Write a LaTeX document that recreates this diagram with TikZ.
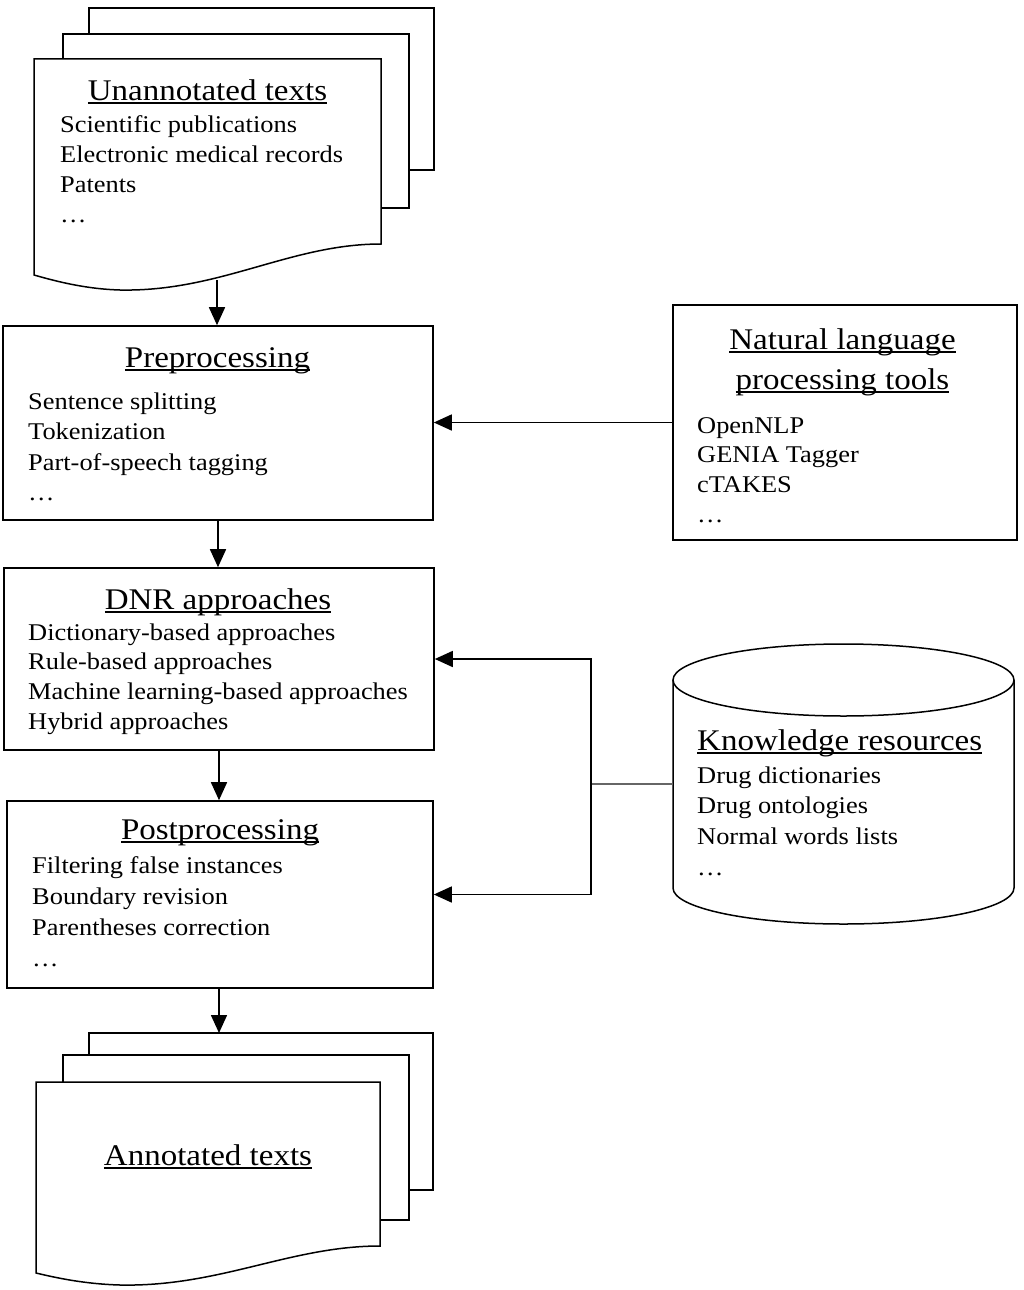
\documentclass[tikz,border=0pt]{standalone}
\usepackage{fontspec}
\setmainfont{Liberation Serif}[FakeStretch=1.1]
\usepackage{tikz}
\usetikzlibrary{arrows.meta,positioning}
\newsavebox\headbox
\newcommand\headline[1]{\sbox\headbox{#1}\rlap{\rule[-3.5pt]{\wd\headbox}{1.3pt}}\usebox\headbox}

\begin{document}
\begin{tikzpicture}[x=1pt, y=-1pt,
    box/.style={draw, fill=white, line width=1.6pt, inner sep=0pt},
    page/.style={draw, fill=white, line width=1.5pt},
    head/.style={font=\fontsize{30}{36}\selectfont, inner sep=0pt, anchor=base},
    entry/.style={font=\fontsize{24}{30}\selectfont, inner sep=0pt, anchor=base west},
    flow/.style={-{Triangle[length=18pt,width=16pt]}, line width=1.6pt},
    link/.style={line width=1.6pt, black!60}
  ]
  \useasboundingbox (0,0) rectangle (1024,1290);

  % input documents
  \draw[page] (89,8) rectangle (434,170);
  \draw[page] (63,34) rectangle (409,208);
  \draw[page] (34,59) -- (381,59) -- (381,244)
    .. controls (290,244) and (220,292) .. (120,290)
    .. controls (85,289) and (55,281) .. (34,275) -- cycle;
  \node[head] (unann-title) at (207.5,100) {\headline{Unannotated texts}};
  \foreach \txt [count=\i from 0] in {Scientific publications, Electronic medical records, Patents, \ldots}
    \node[entry] (unann-\i) at (60,{132+30*\i}) {\txt};
  \coordinate (unann-out) at (217,280);

  % pipeline boxes
  \node[box, minimum width=430pt, minimum height=194pt] (pre) at (218,423) {};
  \node[head] (pre-title) at (217.5,367) {\headline{Preprocessing}};
  \foreach \txt [count=\i from 0] in {Sentence splitting, Tokenization, Part-of-speech tagging, \ldots}
    \node[entry] (pre-\i) at (28,{409+30.5*\i}) {\txt};

  \node[box, minimum width=430pt, minimum height=182pt] (dnr) at (219,659) {};
  \node[head] (dnr-title) at (218,609) {\headline{DNR approaches}};
  \foreach \txt [count=\i from 0] in {Dictionary-based approaches, Rule-based approaches, Machine learning-based approaches, Hybrid approaches}
    \node[entry] (dnr-\i) at (28,{640+29.7*\i}) {\txt};

  \node[box, minimum width=426pt, minimum height=187pt] (post) at (220,894.5) {};
  \node[head] (post-title) at (220,839) {\headline{Postprocessing}};
  \foreach \txt [count=\i from 0] in {Filtering false instances, Boundary revision, Parentheses correction, \ldots}
    \node[entry] (post-\i) at (32,{873+31*\i}) {\txt};

  % resources
  \node[box, minimum width=344pt, minimum height=235pt] (nlp) at (845,422.5) {};
  \node[head] (nlp-title1) at (842.5,349) {\headline{Natural language}};
  \node[head] (nlp-title2) at (842.5,389) {\headline{processing tools}};
  \foreach \txt [count=\i from 0] in {OpenNLP, GENIA Tagger, cTAKES, \ldots}
    \node[entry] (nlp-\i) at (697,{433+29.7*\i}) {\txt};

  \draw[page] (673,680) -- (673,888) arc[start angle=180, end angle=0, x radius=170.5, y radius=36] -- (1014,680);
  \draw[page] (843.5,680) ellipse[x radius=170.5, y radius=36];
  \node[head, anchor=base west] (kr-title) at (697,750) {\headline{Knowledge resources}};
  \foreach \txt [count=\i from 0] in {Drug dictionaries, Drug ontologies, Normal words lists, \ldots}
    \node[entry] (kr-\i) at (697,{783+30.7*\i}) {\txt};
  \coordinate (kr) at (673,784);
  \coordinate (split) at (591,784);

  % output documents
  \draw[page] (89,1033) rectangle (433,1190);
  \draw[page] (63,1055) rectangle (409,1220);
  \draw[page] (36,1082) -- (380,1082) -- (380,1246)
    .. controls (290,1246) and (220,1287) .. (120,1285)
    .. controls (85,1284) and (57,1278) .. (36,1273) -- cycle;
  \node[head] (ann-title) at (208,1165) {\headline{Annotated texts}};
  \coordinate (ann-in) at (219,1033);

  % connectors
  \draw[flow] (unann-out) -- (unann-out |- pre.north);
  \draw[flow] (pre.south) -- (pre.south |- dnr.north);
  \draw[flow] (dnr.south) -- (dnr.south |- post.north);
  \draw[flow] (post.south -| ann-in) -- (ann-in);
  \draw[flow] (nlp.west) -- (nlp.west -| pre.east);
  \draw[link] (kr) -- (split);
  \draw[flow] (split) |- (dnr.east);
  \draw[flow] (split) |- (post.east);
\end{tikzpicture}
\end{document}
